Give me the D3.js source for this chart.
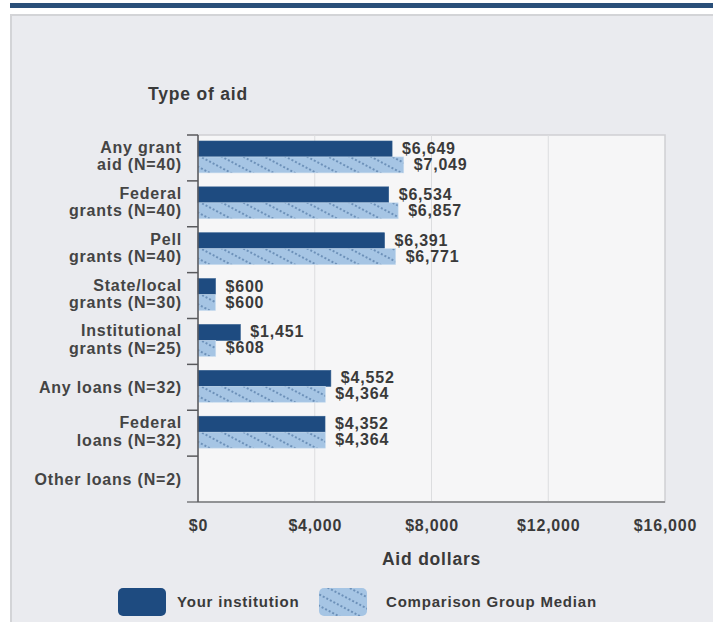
<!DOCTYPE html>
<html>
<head>
<meta charset="utf-8">
<script src="https://cdn.jsdelivr.net/npm/d3@7"></script>
<style>
  html, body { margin: 0; padding: 0; background: #ffffff; }
  svg { display: block; }
  text { font-family: "Liberation Sans", Arial, Helvetica, sans-serif; font-weight: bold; letter-spacing: 0.8px; }
</style>
</head>
<body>
<div id="chart"></div>
<script>
// ---- data ----
const categories = [
  ["Any grant", "aid (N=40)"],
  ["Federal", "grants (N=40)"],
  ["Pell", "grants (N=40)"],
  ["State/local", "grants (N=30)"],
  ["Institutional", "grants (N=25)"],
  ["Any loans (N=32)"],
  ["Federal", "loans (N=32)"],
  ["Other loans (N=2)"]
];
const seriesNames = ["Your institution", "Comparison Group Median"];
const yourInstitution = [6649, 6534, 6391, 600, 1451, 4552, 4352, null];
const comparisonMedian = [7049, 6857, 6771, 600, 608, 4364, 4364, null];
const xTicks = [0, 4000, 8000, 12000, 16000];

// ---- layout ----
const W = 713, H = 622;
const plot = { left: 198, right: 665, top: 135, bottom: 502 };
const darkColor = "#1e4b80";
const lightColor = "#a6c5e4";
const textColor = "#3a3a3a";
const fontFam = '"Liberation Sans", Arial, Helvetica, sans-serif';

const svg = d3.select("#chart").append("svg").attr("width", W).attr("height", H);

// pattern for comparison bars
const defs = svg.append("defs");
const pat = defs.append("pattern")
  .attr("id", "dots")
  .attr("patternUnits", "userSpaceOnUse")
  .attr("width", 4).attr("height", 10)
  .attr("patternTransform", "rotate(28)");
pat.append("rect").attr("width", 4).attr("height", 10).attr("fill", lightColor);
pat.append("circle").attr("cx", 2).attr("cy", 5).attr("r", 1).attr("fill", "#5a80ab");

// top band and panel
svg.append("rect").attr("x", 10).attr("y", 3).attr("width", W - 10).attr("height", 5).attr("fill", "#2a4f79");
svg.append("rect").attr("x", 11).attr("y", 15).attr("width", W + 10).attr("height", H + 10)
  .attr("fill", "#eaebef").attr("stroke", "#d3d4d7").attr("stroke-width", 2);

// plot background
svg.append("rect")
  .attr("x", plot.left).attr("y", plot.top)
  .attr("width", plot.right - plot.left).attr("height", plot.bottom - plot.top)
  .attr("fill", "#f6f6f7").attr("stroke", "#cfd0d3").attr("stroke-width", 1.5);

const x = d3.scaleLinear().domain([0, 16000]).range([plot.left, plot.right]);
const y0 = d3.scaleBand().domain(d3.range(categories.length)).range([plot.top, plot.bottom]).padding(0);
const y1 = d3.scaleBand().domain([0, 1]).range([6, y0.bandwidth() - 8]).padding(0);

// gridlines
svg.append("g").selectAll("line").data(xTicks.slice(1, -1)).join("line")
  .attr("x1", d => x(d)).attr("x2", d => x(d))
  .attr("y1", plot.top).attr("y2", plot.bottom)
  .attr("stroke", "#dcdddf").attr("stroke-width", 1);

// x axis
const xAxis = d3.axisBottom(x).tickValues(xTicks).tickSize(0).tickPadding(0)
  .tickFormat(d => "$" + d3.format(",")(d));
const gx = svg.append("g").attr("transform", `translate(0,${plot.bottom})`).call(xAxis);
gx.select(".domain").remove();
gx.selectAll("text").attr("dy", null).attr("y", 29).attr("font-size", 16).attr("fill", textColor)
  .style("font-family", fontFam).style("font-weight", "bold").style("letter-spacing", "0.8px");
svg.append("line").attr("x1", 187).attr("x2", plot.right).attr("y1", plot.bottom).attr("y2", plot.bottom)
  .attr("stroke", "#7a7b7e").attr("stroke-width", 1.5);

// bars
const groups = svg.append("g").selectAll("g").data(categories).join("g")
  .attr("transform", (d, i) => `translate(0,${y0(i)})`);

const seriesData = [yourInstitution, comparisonMedian];
groups.each(function(d, i) {
  const g = d3.select(this);
  seriesData.forEach((s, si) => {
    const v = s[i];
    if (v == null) return;
    g.append("rect")
      .attr("x", x(0)).attr("y", y1(si))
      .attr("width", x(v) - x(0)).attr("height", y1.bandwidth())
      .attr("fill", si === 0 ? darkColor : "url(#dots)")
      .attr("stroke", si === 0 ? "#2d5a8c" : "#c9dcee").attr("stroke-width", 0.6);
    g.append("text")
      .attr("x", x(v) + 10).attr("y", y1(si) + y1.bandwidth() / 2 + 5)
      .attr("font-size", 16).attr("fill", textColor)
      .text("$" + d3.format(",")(v));
  });
});

// y axis
svg.append("line").attr("x1", plot.left).attr("x2", plot.left).attr("y1", plot.top).attr("y2", plot.bottom)
  .attr("stroke", "#58595c").attr("stroke-width", 1.5);
svg.append("g").selectAll("line").data(d3.range(categories.length)).join("line")
  .attr("x1", 187).attr("x2", plot.left)
  .attr("y1", d => y0(d)).attr("y2", d => y0(d))
  .attr("stroke", "#58595c").attr("stroke-width", 1.5);

// category labels
svg.append("g").selectAll("text").data(categories).join("text")
  .attr("text-anchor", "end").attr("font-size", 16).attr("fill", "#444")
  .each(function(d, i) {
    const c = y0(i) + y0.bandwidth() / 2;
    const t = d3.select(this);
    if (d.length === 1) {
      t.append("tspan").attr("x", 182).attr("y", c + 5.5).text(d[0]);
    } else {
      t.append("tspan").attr("x", 182).attr("y", c - 5).text(d[0]);
      t.append("tspan").attr("x", 182).attr("y", c + 12.5).text(d[1]);
    }
  });

// titles
svg.append("text").attr("x", 148).attr("y", 100).attr("font-size", 17.5).attr("fill", textColor).text("Type of aid");
svg.append("text").attr("x", (plot.left + plot.right) / 2).attr("y", 565).attr("text-anchor", "middle")
  .attr("font-size", 17.5).attr("fill", textColor).text("Aid dollars");

// legend
const legendItems = [
  { name: seriesNames[0], fill: darkColor, x: 118, tx: 177 },
  { name: seriesNames[1], fill: "url(#dots)", x: 319, tx: 386 }
];
const lg = svg.append("g").selectAll("g").data(legendItems).join("g");
lg.append("rect").attr("x", d => d.x).attr("y", 588).attr("width", 48).attr("height", 28)
  .attr("rx", 5).attr("fill", d => d.fill);
lg.append("text").attr("x", d => d.tx).attr("y", 607).attr("font-size", 15).attr("fill", textColor)
  .text(d => d.name);
</script>
</body>
</html>
